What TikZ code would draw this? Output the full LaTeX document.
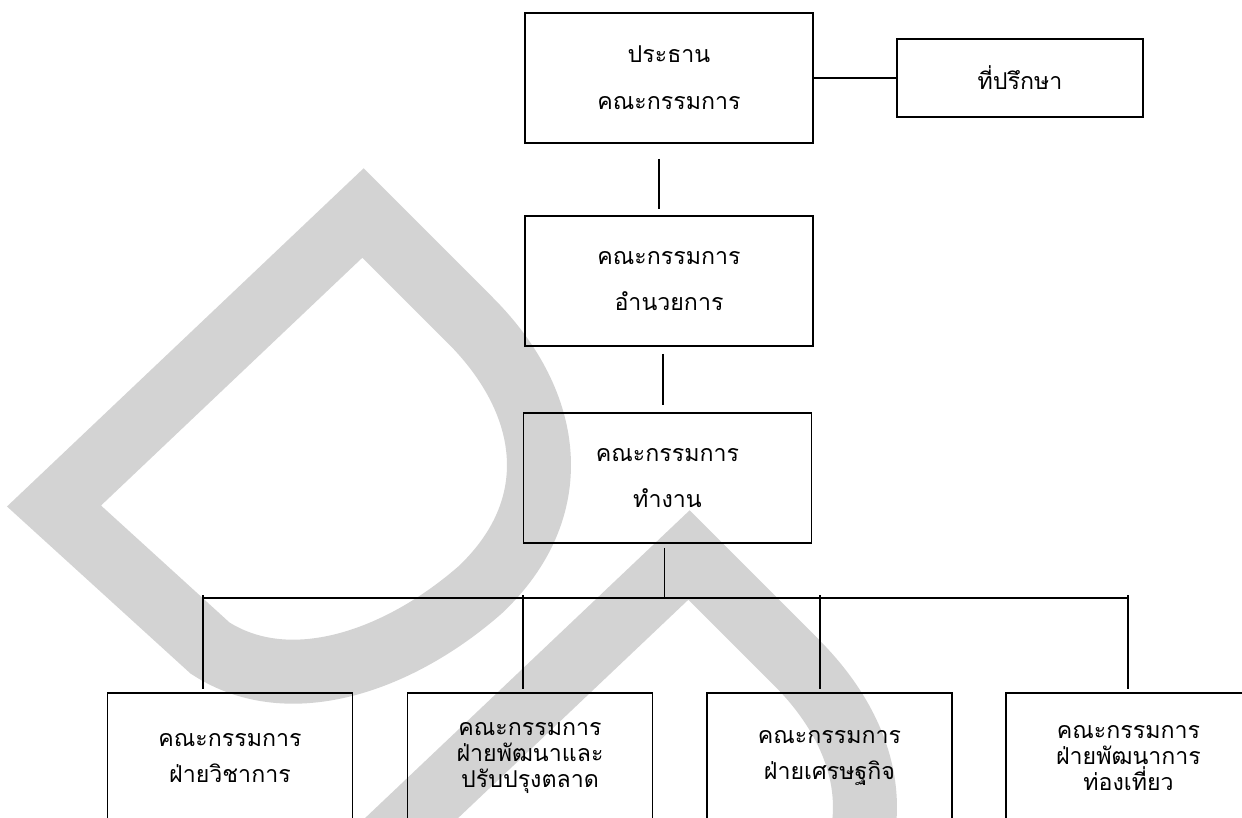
\documentclass[tikz,border=0pt]{standalone}
\usepackage{fontspec}
\newfontfamily\thaifont[Script=Thai]{Loma}
\newcommand{\pxu}{0.02cm}
\newcommand{\orgfont}[1]{\thaifont\fontsize{13.2}{#1}\selectfont\lineskiplimit-100pt\relax}
\definecolor{wmgray}{RGB}{211,211,211}

\tikzset{
  orgbox/.style={draw, line width=1.1pt, align=center, inner sep=0pt,
    minimum width=288*\pxu, minimum height=130*\pxu,
    font={\orgfont{26.7}}},
  smallbox/.style={orgbox, minimum width=246*\pxu, minimum height=78*\pxu},
  unitbox/.style={orgbox, minimum width=245*\pxu, font={\orgfont{21}}},
  tightbox/.style={unitbox, font={\orgfont{15}}},
  link/.style={line width=1.1pt},
  watermark/.style={draw=wmgray, line width=64*\pxu, line join=miter}
}

\begin{document}
\begin{tikzpicture}[x=0.02cm, y=-0.02cm]
  \clip (0,0) rectangle (1242,818);

  % Watermark in the background
  \foreach \dx/\dy in {0/0, 326/342} {
    \draw[watermark, shift={(\dx,\dy)}] (54,506) -- (363,213) -- (470,320)
      .. controls (555,405) and (565,510) .. (480,590)
      .. controls (400,660) and (290,700) .. (210,648) -- cycle;
  }

  % Top levels
  \node[orgbox] (chair) at (669,78) {ประธาน\\คณะกรรมการ};
  \node[smallbox] (advisor) at (1020,78) {ที่ปรึกษา};
  \node[orgbox] (director) at (669,281) {คณะกรรมการ\\อำนวยการ};
  \node[orgbox] (work) at (667.5,478) {คณะกรรมการ\\ทำงาน};

  % Committees
  \node[unitbox] (academic) at (230,758) {คณะกรรมการ\\ฝ่ายวิชาการ};
  \node[tightbox] (market) at (530,758) {คณะกรรมการ\\ฝ่ายพัฒนาและ\\ปรับปรุงตลาด};
  \node[unitbox] (economy) at (829.5,758) {คณะกรรมการ\\ฝ่ายเศรษฐกิจ};
  \node[tightbox] (tourism) at (1128.5,758) {คณะกรรมการ\\ฝ่ายพัฒนาการ\\ท่องเที่ยว};

  % Bus points
  \coordinate (b1) at (203,598);
  \coordinate (b2) at (523,598);
  \coordinate (b3) at (820,598);
  \coordinate (b4) at (1128,598);

  % Connectors
  \draw[link] (chair.east) -- (advisor.west);
  \draw[link, shorten <=15*\pxu, shorten >=6*\pxu]
    ([xshift=-10*\pxu]chair.south) -- ([xshift=-10*\pxu]director.north);
  \draw[link, shorten <=7*\pxu, shorten >=7*\pxu]
    ([xshift=-6*\pxu]director.south) -- ([xshift=-6*\pxu]director.south |- work.north);
  \draw[link, shorten <=4*\pxu] ([xshift=-3*\pxu]work.south) -- ([xshift=-3*\pxu]work.south |- b1);
  \draw[link] (b1) -- (b4);
  \foreach \b/\c in {b1/academic, b2/market, b3/economy, b4/tourism}
    \draw[link, shorten <=-3*\pxu, shorten >=3*\pxu] (\b) -- (\b |- \c.north);
\end{tikzpicture}
\end{document}
